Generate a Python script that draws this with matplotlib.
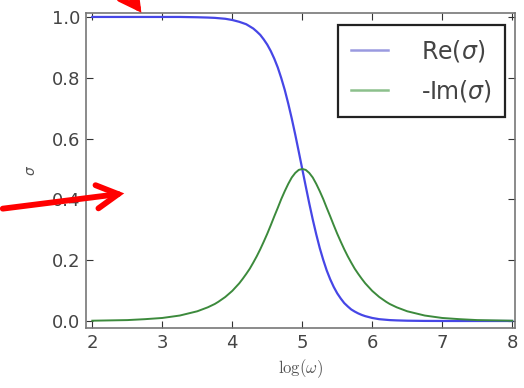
import matplotlib
matplotlib.use("Agg")
import matplotlib.pyplot as plt
from matplotlib.patches import FancyArrowPatch

log_w = [2.0, 2.5, 2.75, 3.0, 3.25, 3.5, 3.65, 3.75, 3.8, 3.9,
         4.0, 4.1, 4.15, 4.2, 4.25, 4.3, 4.35, 4.4, 4.45, 4.5,
         4.55, 4.6, 4.65, 4.7, 4.75, 4.8, 4.85, 4.9, 4.95, 5.0,
         5.05, 5.1, 5.15, 5.2, 5.25, 5.3, 5.35, 5.4, 5.45, 5.5,
         5.55, 5.6, 5.65, 5.7, 5.75, 5.8, 5.85, 5.9, 6.0, 6.1,
         6.2, 6.25, 6.35, 6.5, 6.75, 7.0, 7.25, 7.5, 8.0]
re_sigma = [1.0, 1.0, 1.0, 1.0, 1.0, 0.999, 0.998, 0.997, 0.996, 0.994,
            0.990, 0.984, 0.980, 0.976, 0.969, 0.962, 0.952, 0.941, 0.926, 0.909,
            0.888, 0.863, 0.834, 0.799, 0.760, 0.715, 0.666, 0.613, 0.557, 0.500,
            0.443, 0.387, 0.334, 0.285, 0.240, 0.201, 0.166, 0.137, 0.112, 0.091,
            0.074, 0.059, 0.048, 0.038, 0.031, 0.025, 0.020, 0.016, 0.010, 0.006,
            0.004, 0.003, 0.002, 0.001, 0.0003, 0.0001, 0.0, 0.0, 0.0]
neg_im_sigma = [0.001, 0.003, 0.006, 0.010, 0.018, 0.032, 0.045, 0.056, 0.063, 0.079,
                0.099, 0.124, 0.139, 0.155, 0.172, 0.192, 0.213, 0.236, 0.261, 0.287,
                0.315, 0.344, 0.372, 0.401, 0.427, 0.451, 0.472, 0.487, 0.497, 0.500,
                0.497, 0.487, 0.472, 0.451, 0.427, 0.401, 0.372, 0.344, 0.315, 0.287,
                0.261, 0.236, 0.213, 0.192, 0.172, 0.155, 0.139, 0.124, 0.099, 0.079,
                0.063, 0.056, 0.045, 0.032, 0.018, 0.010, 0.006, 0.003, 0.001]
labels = ["Re($\\sigma$)", "-Im($\\sigma$)"]
x_ticks = [2, 3, 4, 5, 6, 7, 8]
y_ticks = [0.0, 0.2, 0.4, 0.6, 0.8, 1.0]

W, H = 524, 388
fig = plt.figure(figsize=(W / 100, H / 100), dpi=100)
ax = fig.add_axes([86 / W, 1 - 328 / H, (515 - 86) / W, (328 - 13) / H])

ax.plot(log_w, re_sigma, color="#4646e6", lw=1.6, label=labels[0])
ax.plot(log_w, neg_im_sigma, color="#3c8a3c", lw=1.4, label=labels[1])

ax.set_xlim(1.91, 8.04)
ax.set_ylim(-0.023, 1.013)
ax.set_xticks(x_ticks)
ax.set_yticks(y_ticks)
ax.set_xticklabels([str(t) for t in x_ticks])
ax.set_yticklabels([f"{t:.1f}" for t in y_ticks])
ax.tick_params(direction="in", top=True, right=True, length=5, width=0.8,
               labelsize=13, colors="#333333", labelcolor="#444444", pad=4)
for s in ax.spines.values():
    s.set_color("#777777")
    s.set_linewidth(1.2)

ax.set_xlabel("$\\log(\\omega)$", fontsize=12, color="#555555", labelpad=4,
              math_fontfamily="cm")
ax.set_ylabel("$\\sigma$", fontsize=10, color="#555555", labelpad=10)

leg = ax.legend(loc="upper right", bbox_to_anchor=(505 / W, 1 - 25 / H),
                bbox_transform=fig.transFigure, fontsize=17, handlelength=1.55,
                handletextpad=1.4, borderpad=0.55, labelspacing=0.6,
                fancybox=False, framealpha=1, edgecolor="#222222", borderaxespad=0)
leg.get_frame().set_linewidth(1.6)
for t in leg.get_texts():
    t.set_color("#444444")
handle_colors = ["#9a9ae0", "#8cc08c"]
for h, c in zip(leg.get_lines(), handle_colors):
    h.set_color(c)
    h.set_linewidth(1.8)

def fig_arrow(x0, y0, x1, y1):
    a = FancyArrowPatch((x0 / W, 1 - y0 / H), (x1 / W, 1 - y1 / H),
                        transform=fig.transFigure,
                        arrowstyle="->,head_length=0.55,head_width=0.3",
                        mutation_scale=28, color="#ff0000", lw=4.2,
                        capstyle="round", joinstyle="miter", clip_on=False)
    fig.add_artist(a)

fig_arrow(0, 209, 127, 193)
fig_arrow(118, -20, 143, 15)

fig.savefig("out.png", dpi=100)
